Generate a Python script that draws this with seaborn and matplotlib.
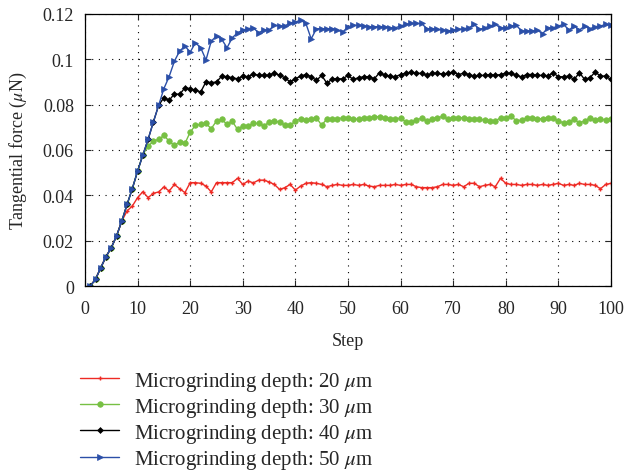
import numpy as np
import pandas as pd
import matplotlib
matplotlib.use("Agg")
import matplotlib.pyplot as plt
import seaborn as sns

steps = list(range(1, 101))

common = [0, 0.003, 0.0081, 0.013, 0.0169, 0.0221, 0.0287]

depth20 = common + [
    0.0331, 0.0353, 0.039, 0.0416, 0.039, 0.0409, 0.0415, 0.0437, 0.0419, 0.0448,
    0.0429, 0.0412, 0.0456, 0.0456, 0.0453, 0.0441, 0.0415, 0.0456, 0.0456, 0.0456,
    0.0456, 0.0475, 0.0448, 0.0463, 0.0455, 0.0467, 0.0467, 0.0459, 0.0448, 0.0426,
    0.0434, 0.0448, 0.0423, 0.0441, 0.0453, 0.0456, 0.0453, 0.0448, 0.0438, 0.0444,
    0.0448, 0.0444, 0.0444, 0.0448, 0.0444, 0.0448, 0.0441, 0.0438, 0.0444, 0.0444,
    0.0444, 0.0448, 0.0444, 0.0448, 0.0448, 0.0438, 0.0434, 0.0434, 0.0434, 0.0438,
    0.0448, 0.0448, 0.0444, 0.0448, 0.0438, 0.0453, 0.0453, 0.0438, 0.0444, 0.0448,
    0.0438, 0.0475, 0.0453, 0.0448, 0.0448, 0.0444, 0.0448, 0.0448, 0.0444, 0.0448,
    0.0444, 0.0448, 0.0453, 0.0444, 0.0448, 0.0444, 0.0453, 0.0448, 0.0448, 0.0444,
    0.0429, 0.0448, 0.0453]

depth30 = common + [
    0.036, 0.043, 0.0507, 0.058, 0.0617, 0.0639, 0.0647, 0.0664, 0.0639, 0.062,
    0.0635, 0.0629, 0.0679, 0.0709, 0.0713, 0.0717, 0.0694, 0.0728, 0.0735, 0.0713,
    0.0726, 0.0691, 0.0706, 0.0706, 0.0717, 0.0717, 0.0706, 0.0723, 0.0728, 0.0723,
    0.0709, 0.0709, 0.0728, 0.0738, 0.0732, 0.0735, 0.0742, 0.0709, 0.0738, 0.0738,
    0.0738, 0.0742, 0.0741, 0.0738, 0.0735, 0.0741, 0.0742, 0.0747, 0.0747, 0.0742,
    0.0738, 0.0735, 0.0742, 0.0723, 0.0723, 0.0732, 0.0741, 0.0728, 0.0738, 0.0742,
    0.0748, 0.0737, 0.0742, 0.0742, 0.0742, 0.0738, 0.0738, 0.0735, 0.0732, 0.0728,
    0.0728, 0.0742, 0.0742, 0.075, 0.0728, 0.0732, 0.0742, 0.0742, 0.0738, 0.0738,
    0.0742, 0.0742, 0.0728, 0.072, 0.0723, 0.0735, 0.072, 0.0728, 0.0742, 0.0732,
    0.0738, 0.0732, 0.0738]

depth40 = common + [
    0.036, 0.043, 0.0507, 0.0578, 0.0647, 0.0724, 0.0797, 0.0831, 0.0819, 0.0848,
    0.0845, 0.0875, 0.087, 0.0864, 0.0856, 0.0901, 0.0897, 0.09, 0.0926, 0.0923,
    0.0919, 0.0914, 0.0926, 0.0923, 0.0935, 0.0929, 0.0929, 0.0929, 0.0941, 0.0929,
    0.0919, 0.09, 0.0914, 0.0926, 0.0933, 0.0923, 0.0907, 0.0929, 0.0894, 0.0914,
    0.0914, 0.0914, 0.0929, 0.0911, 0.0919, 0.0923, 0.0923, 0.0914, 0.0941, 0.0929,
    0.0926, 0.0923, 0.0933, 0.0938, 0.0944, 0.0938, 0.0938, 0.0929, 0.0938, 0.0938,
    0.0935, 0.0938, 0.0944, 0.0933, 0.0938, 0.0933, 0.0926, 0.0929, 0.0929, 0.0933,
    0.0929, 0.0933, 0.0938, 0.0938, 0.0929, 0.0923, 0.0933, 0.0933, 0.0929, 0.0929,
    0.0926, 0.0941, 0.0923, 0.0923, 0.0926, 0.0911, 0.0941, 0.0911, 0.0919, 0.0944,
    0.0926, 0.0926, 0.0911]

depth50 = common + [
    0.036, 0.043, 0.0507, 0.0578, 0.0647, 0.0724, 0.0797, 0.0871, 0.0924, 0.0992,
    0.1037, 0.1058, 0.1032, 0.1073, 0.1051, 0.0997, 0.108, 0.1103, 0.1088, 0.1051,
    0.1095, 0.1117, 0.1129, 0.1135, 0.1139, 0.1117, 0.1129, 0.1129, 0.115, 0.1147,
    0.1147, 0.1161, 0.1164, 0.1173, 0.1158, 0.109, 0.1135, 0.1135, 0.1135, 0.1135,
    0.1129, 0.112, 0.1144, 0.115, 0.115, 0.1147, 0.1144, 0.1144, 0.1144, 0.1144,
    0.1139, 0.1139, 0.1147, 0.1154, 0.1158, 0.1158, 0.1158, 0.1135, 0.1135, 0.1132,
    0.1129, 0.1125, 0.1129, 0.1132, 0.1135, 0.1139, 0.1154, 0.1132, 0.1139, 0.1147,
    0.1154, 0.1139, 0.1139, 0.1147, 0.115, 0.1125, 0.1125, 0.1125, 0.1129, 0.1113,
    0.1139, 0.1139, 0.1147, 0.1154, 0.1129, 0.1147, 0.1129, 0.1147, 0.1135, 0.1144,
    0.1147, 0.1154, 0.115]

labels = [r"Microgrinding depth: 20 $\mu$m", r"Microgrinding depth: 30 $\mu$m",
          r"Microgrinding depth: 40 $\mu$m", r"Microgrinding depth: 50 $\mu$m"]
xticks = [0, 10, 20, 30, 40, 50, 60, 70, 80, 90, 100]
yticks = [0, 0.02, 0.04, 0.06, 0.08, 0.1, 0.12]
ytick_labels = ["0", "0.02", "0.04", "0.06", "0.08", "0.1", "0.12"]

sns.set_style("ticks")
plt.rcParams["font.family"] = ["Liberation Serif", "DejaVu Serif"]
plt.rcParams["mathtext.fontset"] = "stix"

fig = plt.figure(figsize=(6.26, 4.77), dpi=100)
ax = fig.add_axes([0.1358, 0.3983, 0.8402, 0.5703])

styles = [
    dict(color="#ee2a24", marker="+", markersize=3.5, markeredgewidth=1.0),
    dict(color="#77c043", marker="o", markersize=4, markeredgewidth=0.5),
    dict(color="#000000", marker="D", markersize=3, markeredgewidth=0.5),
    dict(color="#2b4fa8", marker=">", markersize=4.5, markeredgewidth=0.5),
]
series = [depth20, depth30, depth40, depth50]
for vals, lab, st in zip(series, labels, styles):
    df = pd.DataFrame({"Step": steps, "Force": vals})
    sns.lineplot(data=df, x="Step", y="Force", ax=ax, label=lab, linewidth=1.0,
                 markeredgecolor=st["color"], **st)

ax.set_xlim(0, 100)
ax.set_ylim(0, 0.12)
ax.set_xticks(xticks)
ax.set_yticks(yticks)
ax.set_yticklabels(ytick_labels)
ax.tick_params(direction="in", top=True, right=True, labelsize=13, length=4,
               width=0.8, pad=8)
ax.tick_params(axis="x", pad=10)
for s in ax.spines.values():
    s.set_visible(True)
    s.set_linewidth(0.9)
    s.set_color("black")
ax.grid(True, linestyle=(0, (1, 5)), color="black", linewidth=0.8)
ax.set_xlabel("Step", fontsize=13, labelpad=11)
ax.set_ylabel(r"Tangential force ($\mu$N)", fontsize=13, labelpad=10)

ax.legend(loc="upper left", bbox_to_anchor=(-0.01, -0.307), frameon=False,
          fontsize=15, handlelength=1.9, handletextpad=0.72, labelspacing=0.15,
          borderaxespad=0, borderpad=0)

fig.savefig("out.png", dpi=100)
